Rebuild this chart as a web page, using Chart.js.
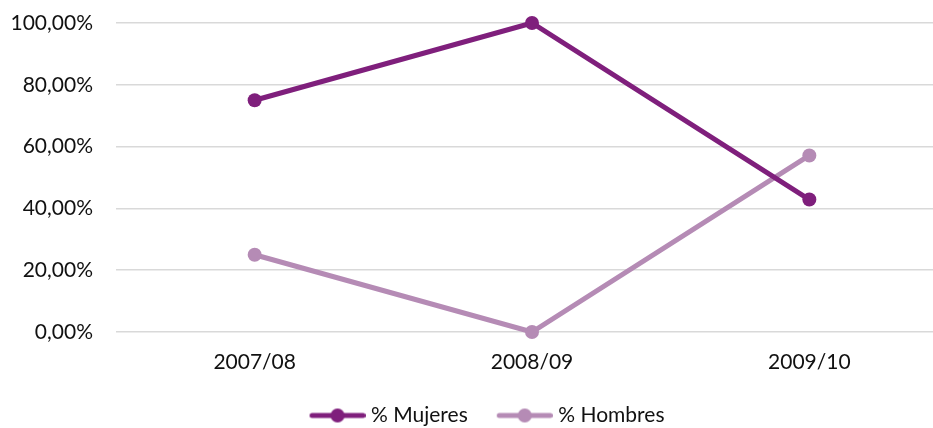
<!DOCTYPE html>
<html><head><meta charset="utf-8">
<script src="https://cdn.jsdelivr.net/npm/chart.js@4/dist/chart.umd.min.js"></script>
<style>
html,body{margin:0;padding:0;background:#fff;overflow:hidden;width:933px;height:428px;}
#wrap{position:relative;width:955px;height:428px;}
</style></head>
<body>
<div id="wrap"><canvas id="c" width="955" height="428"></canvas></div>
<script>
const categories = ["2007/08", "2008/09", "2009/10"];
const mujeres = [75.00, 100.00, 42.86];
const hombres = [25.00, 0.00, 57.14];
const yTicks = [0, 20, 40, 60, 80, 100];
const seriesNames = ["% Mujeres", "% Hombres"];
const colors = ["#7f1f7c", "#b58bb5"];

function legendIcon(color){
  const cv = document.createElement('canvas');
  cv.width = 80; cv.height = 16;
  const g = cv.getContext('2d');
  g.strokeStyle = color; g.lineWidth = 5; g.lineCap = 'round';
  g.beginPath(); g.moveTo(26.5, 8); g.lineTo(77.5, 8); g.stroke();
  g.fillStyle = color; g.beginPath(); g.arc(52, 8, 7, 0, Math.PI*2); g.fill();
  return cv;
}
const icons = colors.map(legendIcon);

const font = {family: "Lato, 'Liberation Sans', sans-serif", size: 21};
Chart.defaults.font = font;
Chart.defaults.color = "#111111";

new Chart(document.getElementById('c'), {
  type: 'line',
  data: {
    labels: categories,
    datasets: [
      {label: seriesNames[0], data: mujeres, borderColor: colors[0], backgroundColor: colors[0], borderWidth: 5, pointRadius: 7, pointHoverRadius: 7, pointBackgroundColor: colors[0], pointBorderWidth: 0, pointStyle: 'circle', tension: 0, clip: false},
      {label: seriesNames[1], data: hombres, borderColor: colors[1], backgroundColor: colors[1], borderWidth: 5, pointRadius: 7, pointHoverRadius: 7, pointBackgroundColor: colors[1], pointBorderWidth: 0, pointStyle: 'circle', tension: 0, clip: false}
    ]
  },
  options: {
    responsive: false,
    animation: false,
    layout: {padding: {top: 23, bottom: -8, left: 0, right: 0}},
    plugins: {
      tooltip: {enabled: false},
      legend: {
        position: 'bottom',
        labels: {
          usePointStyle: true,
          pointStyleWidth: 70,
          padding: 10,
          font: font,
          color: "#111111",
          generateLabels: (chart) => chart.data.datasets.map((ds, i) => ({
            text: ds.label, pointStyle: icons[i], fillStyle: colors[i], strokeStyle: colors[i], lineWidth: 0, datasetIndex: i, hidden: false, fontColor: "#111111"
          }))
        }
      }
    },
    scales: {
      x: {
        type: 'category',
        offset: true,
        afterFit: (s) => { s.height = 63; s.paddingLeft = 0; s.paddingRight = 0; },
        grid: {display: false, drawTicks: false},
        border: {display: false},
        ticks: {padding: 17.4, font: font, color: "#111111"}
      },
      y: {
        min: 0, max: 100,
        afterFit: (s) => { s.width = 116; s.paddingTop = 0; s.paddingBottom = 0; },
        afterBuildTicks: (s) => { s.ticks = yTicks.map(v => ({value: v})); },
        grid: {color: "#d9d9d9", lineWidth: 1.5, drawTicks: false},
        border: {display: false},
        ticks: {padding: 23, font: font, color: "#111111", callback: (v) => v.toFixed(2).replace('.', ',') + '%'}
      }
    }
  }
});
</script>
</body></html>
